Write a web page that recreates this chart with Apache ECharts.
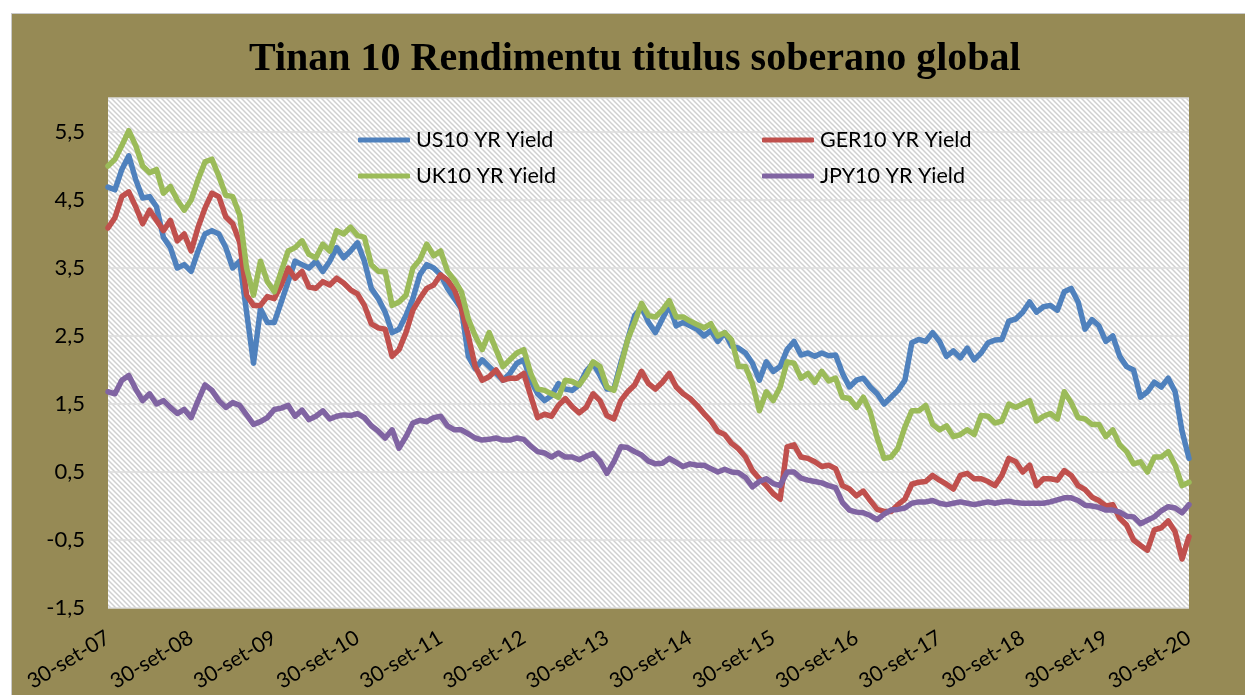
<!DOCTYPE html>
<html>
<head>
<meta charset="utf-8">
<script src="https://cdn.jsdelivr.net/npm/echarts@6/dist/echarts.min.js"></script>
<style>
html,body{margin:0;padding:0;background:#fff;width:1245px;height:695px;overflow:hidden;}
#frame{position:absolute;left:11px;top:13px;width:1234px;height:682px;background:#968a55;border-left:1px solid #c9c9c9;border-top:1px solid #c9c9c9;box-sizing:border-box;}
#chart{position:absolute;left:0;top:0;width:1233px;height:681px;}
</style>
</head>
<body>
<div id="frame"><div id="chart"></div></div>
<script>
// x tick labels (one per year, every 12 monthly observations)
var xTickLabels = ['30-set-07','30-set-08','30-set-09','30-set-10','30-set-11','30-set-12','30-set-13','30-set-14','30-set-15','30-set-16','30-set-17','30-set-18','30-set-19','30-set-20'];
var seriesNames = ['US10 YR Yield','GER10 YR Yield','UK10 YR Yield','JPY10 YR Yield'];

var us10 = [4.69,4.65,4.95,5.15,4.8,4.53,4.55,4.4,3.95,3.8,3.5,3.55,3.45,3.75,4.0,4.05,4.0,3.8,3.5,3.6,2.85,2.1,2.9,2.7,2.7,3.0,3.3,3.6,3.55,3.5,3.6,3.45,3.6,3.8,3.65,3.75,3.87,3.6,3.2,3.05,2.85,2.55,2.6,2.8,3.05,3.4,3.55,3.5,3.4,3.2,3.05,2.9,2.2,2.02,2.15,2.05,1.95,1.85,1.95,2.1,2.15,1.85,1.65,1.55,1.62,1.8,1.72,1.7,1.78,1.98,2.1,1.92,1.72,1.72,2.1,2.45,2.8,2.92,2.7,2.55,2.75,2.95,2.65,2.7,2.65,2.6,2.5,2.58,2.42,2.55,2.35,2.32,2.25,2.1,1.85,2.12,1.98,2.05,2.3,2.42,2.22,2.25,2.2,2.25,2.21,2.22,1.95,1.75,1.85,1.88,1.75,1.65,1.5,1.6,1.7,1.85,2.4,2.45,2.42,2.55,2.42,2.2,2.28,2.18,2.32,2.15,2.25,2.4,2.44,2.45,2.72,2.75,2.85,3.0,2.85,2.93,2.95,2.88,3.15,3.2,3.0,2.6,2.74,2.65,2.42,2.5,2.2,2.05,2.0,1.6,1.68,1.82,1.75,1.88,1.68,1.1,0.7];
var ger10 = [4.09,4.24,4.55,4.62,4.4,4.15,4.35,4.2,4.05,4.2,3.9,4.0,3.75,4.1,4.38,4.6,4.55,4.25,4.15,3.88,3.1,2.95,2.95,3.08,3.05,3.25,3.5,3.35,3.45,3.22,3.2,3.3,3.25,3.35,3.28,3.18,3.12,2.95,2.68,2.62,2.6,2.2,2.3,2.55,2.88,3.05,3.2,3.25,3.4,3.32,3.18,2.9,2.5,2.05,1.85,1.9,2.0,1.85,1.88,1.88,1.95,1.62,1.3,1.35,1.32,1.48,1.58,1.46,1.37,1.45,1.65,1.55,1.33,1.28,1.55,1.68,1.78,1.98,1.8,1.72,1.82,1.95,1.75,1.65,1.58,1.48,1.36,1.25,1.1,1.05,0.92,0.84,0.72,0.52,0.4,0.3,0.18,0.1,0.87,0.9,0.72,0.7,0.65,0.58,0.6,0.55,0.3,0.25,0.15,0.22,0.08,-0.05,-0.08,-0.08,0.02,0.1,0.32,0.35,0.36,0.45,0.38,0.32,0.25,0.45,0.48,0.4,0.4,0.36,0.3,0.45,0.7,0.65,0.5,0.6,0.3,0.4,0.4,0.38,0.52,0.45,0.3,0.24,0.13,0.08,0.0,0.02,-0.18,-0.28,-0.5,-0.58,-0.65,-0.35,-0.32,-0.22,-0.38,-0.78,-0.45];
var uk10 = [5.0,5.1,5.3,5.52,5.3,5.0,4.9,4.95,4.6,4.7,4.5,4.35,4.5,4.8,5.06,5.1,4.85,4.57,4.55,4.28,3.5,3.1,3.6,3.3,3.15,3.45,3.75,3.8,3.9,3.7,3.65,3.85,3.75,4.05,4.0,4.1,3.98,3.95,3.55,3.45,3.45,2.95,3.0,3.1,3.5,3.62,3.85,3.68,3.75,3.45,3.32,3.15,2.75,2.5,2.3,2.55,2.3,2.05,2.15,2.25,2.3,1.95,1.72,1.7,1.65,1.6,1.85,1.83,1.78,1.92,2.12,2.05,1.75,1.7,2.05,2.45,2.7,2.98,2.8,2.78,2.88,3.02,2.78,2.78,2.72,2.67,2.62,2.68,2.5,2.55,2.44,2.05,2.05,1.8,1.4,1.68,1.55,1.75,2.12,2.1,1.88,1.95,1.82,1.98,1.84,1.88,1.6,1.58,1.45,1.6,1.38,1.0,0.7,0.72,0.85,1.16,1.4,1.4,1.48,1.2,1.12,1.18,1.02,1.05,1.12,1.05,1.33,1.32,1.22,1.25,1.5,1.45,1.5,1.55,1.25,1.32,1.36,1.28,1.68,1.52,1.3,1.28,1.2,1.2,1.02,1.12,0.9,0.8,0.62,0.65,0.5,0.72,0.72,0.8,0.6,0.3,0.35];
var jpy10 = [1.68,1.65,1.85,1.92,1.72,1.55,1.65,1.5,1.55,1.45,1.36,1.42,1.3,1.55,1.78,1.7,1.55,1.45,1.52,1.48,1.34,1.2,1.24,1.3,1.42,1.44,1.48,1.32,1.41,1.27,1.32,1.4,1.28,1.32,1.34,1.33,1.36,1.3,1.18,1.1,1.0,1.12,0.85,1.02,1.22,1.26,1.24,1.3,1.32,1.18,1.12,1.12,1.06,1.0,0.97,0.98,1.0,0.97,0.97,1.0,0.98,0.88,0.8,0.78,0.72,0.78,0.72,0.72,0.68,0.73,0.77,0.66,0.48,0.65,0.87,0.86,0.8,0.75,0.66,0.62,0.63,0.7,0.64,0.58,0.62,0.6,0.6,0.55,0.5,0.54,0.5,0.49,0.42,0.28,0.36,0.4,0.33,0.3,0.5,0.5,0.41,0.38,0.36,0.34,0.3,0.27,0.05,-0.06,-0.09,-0.1,-0.14,-0.2,-0.12,-0.06,-0.05,-0.03,0.04,0.06,0.06,0.08,0.04,0.02,0.04,0.06,0.04,0.02,0.04,0.06,0.04,0.06,0.07,0.05,0.04,0.04,0.04,0.04,0.06,0.09,0.12,0.12,0.08,0.01,0.0,-0.02,-0.06,-0.06,-0.09,-0.15,-0.16,-0.26,-0.21,-0.16,-0.07,-0.01,-0.03,-0.1,0.02];

var colors = ['#4f81bd','#c0504d','#9bbb59','#8064a2'];

// hatch pattern for plot area
var pc = document.createElement('canvas');
pc.width = 5; pc.height = 5;
var ctx = pc.getContext('2d');
ctx.fillStyle = '#ffffff'; ctx.fillRect(0,0,5,5);
ctx.strokeStyle = '#d0d0d0'; ctx.lineWidth = 1.5;
ctx.beginPath();
ctx.moveTo(-1,-1); ctx.lineTo(6,6);
ctx.moveTo(-1,4); ctx.lineTo(1,6);
ctx.moveTo(4,-1); ctx.lineTo(6,1);
ctx.stroke();

function pairs(arr){ return arr.map(function(v,i){ return [i,v]; }); }
var allData = [us10, ger10, uk10, jpy10];

var font = 'Lato, "Open Sans", sans-serif';
function legendAt(name, left, top){
  return {
    data:[name], left:left, top:top, padding:0, itemWidth:52, itemHeight:5, icon:'roundRect',
    itemGap:0, textStyle:{fontFamily:font, fontSize:21.5, color:'#000', padding:[0,0,0,1]}, selectedMode:false
  };
}

var chart = echarts.init(document.getElementById('chart'), null, {renderer:'canvas'});
chart.setOption({
  animation:false,
  backgroundColor:'transparent',
  color: colors,
  title:{
    text:'Tinan 10 Rendimentu titulus soberano global',
    left:237, top:26, padding:0,
    textStyle:{fontFamily:'"Liberation Serif", "DejaVu Serif", serif', fontWeight:'bold', fontSize:40, color:'#000'}
  },
  legend:[
    legendAt(seriesNames[0], 346, 115),
    legendAt(seriesNames[1], 750, 115),
    legendAt(seriesNames[2], 346, 151),
    legendAt(seriesNames[3], 750, 151)
  ],
  grid:{left:96, right:56, top:84, bottom:87, show:true, borderWidth:0,
    backgroundColor:{image:pc, repeat:'repeat'}},
  xAxis:{
    type:'value', min:0, max:156, interval:12,
    axisLine:{show:false}, axisTick:{show:false}, splitLine:{show:false},
    axisLabel:{rotate:31, margin:28, fontFamily:font, fontSize:21, color:'#000',
      formatter:function(v){ return xTickLabels[Math.round(v/12)] || ''; }}
  },
  yAxis:{
    type:'value', min:-1.5, max:6, interval:1,
    axisLine:{show:false}, axisTick:{show:false},
    splitLine:{lineStyle:{color:'#dcdcdc', width:1.5}},
    axisLabel:{showMaxLabel:false, margin:23, fontFamily:font, fontSize:22, color:'#000',
      formatter:function(v){ return v.toFixed(1).replace('.', ','); }}
  },
  series: seriesNames.map(function(n,i){
    return {name:n, type:'line', data:pairs(allData[i]), showSymbol:false, symbol:'none',
      lineStyle:{width:5.5, color:colors[i], cap:'round', join:'round'}, itemStyle:{color:colors[i]}};
  })
});
</script>
</body>
</html>
